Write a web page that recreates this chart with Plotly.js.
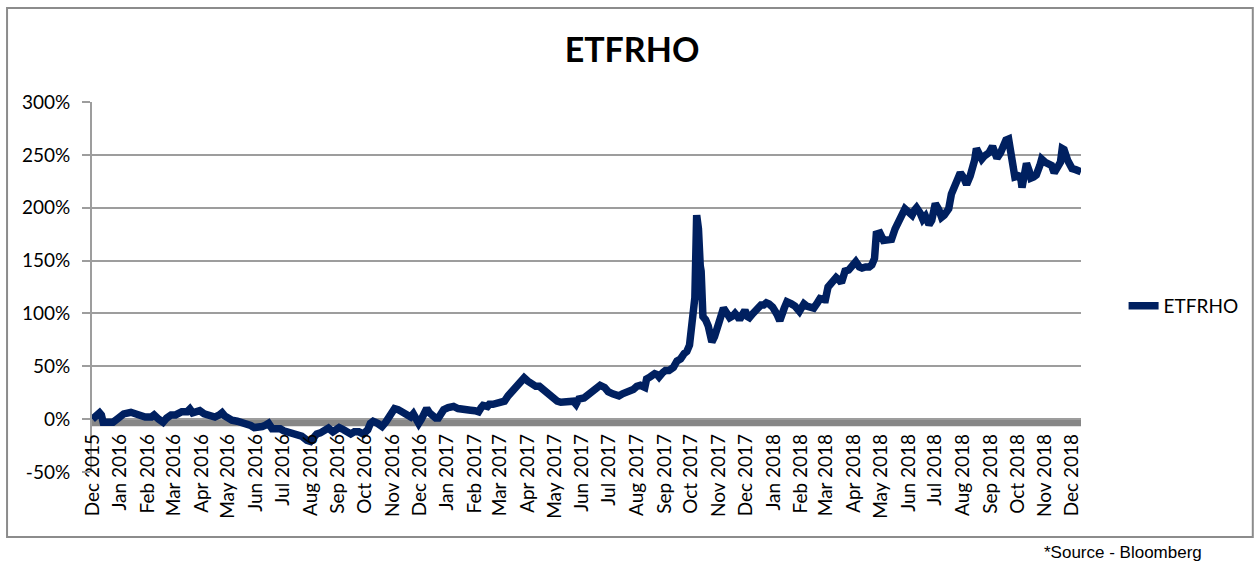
<!DOCTYPE html>
<html><head><meta charset="utf-8">
<script src="https://cdn.plot.ly/plotly-3.0.1.min.js"></script>
<style>html,body{margin:0;padding:0;background:#fff;}#chart{width:1255px;height:564px;}</style>
</head><body><div id="chart"></div>
<script>
const seriesName = "ETFRHO";
const chartTitle = "ETFRHO";
const sourceNote = "*Source - Bloomberg";

const dates = [
"2015-12-01","2015-12-05","2015-12-09","2015-12-11","2015-12-13","2015-12-19","2015-12-24","2015-12-30",
"2016-01-05","2016-01-13","2016-01-18","2016-01-24","2016-01-29",
"2016-02-05","2016-02-08","2016-02-13","2016-02-18","2016-02-22","2016-02-27",
"2016-03-03","2016-03-10","2016-03-16","2016-03-19","2016-03-22","2016-03-27","2016-03-30",
"2016-04-04","2016-04-09","2016-04-13","2016-04-16","2016-04-21","2016-04-24","2016-04-27","2016-04-30",
"2016-05-05","2016-05-11","2016-05-16","2016-05-22","2016-05-26","2016-05-30",
"2016-06-05","2016-06-08","2016-06-11","2016-06-15","2016-06-19","2016-06-24","2016-06-28",
"2016-07-02","2016-07-06","2016-07-11","2016-07-17","2016-07-22","2016-07-28",
"2016-08-01","2016-08-04","2016-08-08","2016-08-12","2016-08-16","2016-08-21","2016-08-26",
"2016-09-02","2016-09-07","2016-09-12","2016-09-15","2016-09-19","2016-09-24","2016-09-29",
"2016-10-04","2016-10-07","2016-10-10","2016-10-15","2016-10-20","2016-10-24","2016-10-27","2016-10-30",
"2016-11-03","2016-11-07","2016-11-10","2016-11-13","2016-11-18","2016-11-21","2016-11-24","2016-11-28","2016-11-30",
"2016-12-03","2016-12-06","2016-12-09","2016-12-12","2016-12-15","2016-12-19","2016-12-22","2016-12-25","2016-12-28",
"2017-01-02","2017-01-05","2017-01-08","2017-01-13","2017-01-18","2017-01-23","2017-01-27",
"2017-02-01","2017-02-05","2017-02-08","2017-02-10","2017-02-15","2017-02-17","2017-02-21","2017-02-27",
"2017-03-01","2017-03-06","2017-03-10","2017-03-13","2017-03-18","2017-03-22","2017-03-26","2017-03-28",
"2017-04-01","2017-04-05","2017-04-10","2017-04-14","2017-04-18","2017-04-22","2017-04-26","2017-04-30",
"2017-05-04","2017-05-08","2017-05-13","2017-05-17","2017-05-22","2017-05-25","2017-05-28",
"2017-06-03","2017-06-07","2017-06-11","2017-06-15","2017-06-18","2017-06-21","2017-06-26","2017-06-30",
"2017-07-05","2017-07-09","2017-07-12","2017-07-16","2017-07-20","2017-07-24","2017-07-28",
"2017-08-01","2017-08-05","2017-08-10","2017-08-12","2017-08-16","2017-08-21","2017-08-24","2017-08-26","2017-08-30",
"2017-09-02","2017-09-06","2017-09-11","2017-09-15","2017-09-19","2017-09-23","2017-09-26","2017-09-29",
"2017-10-03","2017-10-05","2017-10-07","2017-10-09","2017-10-11","2017-10-12","2017-10-14","2017-10-17","2017-10-20","2017-10-24","2017-10-27","2017-10-29",
"2017-11-02","2017-11-06","2017-11-10","2017-11-13","2017-11-17","2017-11-19","2017-11-22","2017-11-24","2017-11-28","2017-11-30",
"2017-12-03","2017-12-05","2017-12-09","2017-12-13","2017-12-18","2017-12-21","2017-12-24","2017-12-27","2017-12-31",
"2018-01-05","2018-01-08","2018-01-13","2018-01-16","2018-01-21","2018-01-25","2018-01-30",
"2018-02-04","2018-02-07","2018-02-11","2018-02-15","2018-02-19","2018-02-22","2018-02-27","2018-02-28",
"2018-03-03","2018-03-07","2018-03-09","2018-03-12","2018-03-16","2018-03-18","2018-03-22","2018-03-26","2018-03-30",
"2018-04-03","2018-04-07","2018-04-10","2018-04-14","2018-04-18","2018-04-21","2018-04-24","2018-04-26","2018-04-30",
"2018-05-04","2018-05-08","2018-05-13","2018-05-17","2018-05-21","2018-05-24","2018-05-28",
"2018-06-01","2018-06-05","2018-06-08","2018-06-10","2018-06-14","2018-06-17","2018-06-20","2018-06-24","2018-06-27",
"2018-07-01","2018-07-05","2018-07-08","2018-07-11","2018-07-16","2018-07-19","2018-07-22","2018-07-26","2018-07-29",
"2018-08-02","2018-08-05","2018-08-09","2018-08-11","2018-08-14","2018-08-16","2018-08-19","2018-08-22","2018-08-25","2018-08-30",
"2018-09-03","2018-09-06","2018-09-08","2018-09-12","2018-09-15","2018-09-18","2018-09-21","2018-09-23","2018-09-25","2018-09-28",
"2018-10-02","2018-10-04","2018-10-06","2018-10-09","2018-10-11","2018-10-14","2018-10-16","2018-10-19","2018-10-22","2018-10-26","2018-10-28",
"2018-11-01","2018-11-05","2018-11-08","2018-11-11","2018-11-15","2018-11-18","2018-11-20","2018-11-22","2018-11-26","2018-11-28",
"2018-12-01","2018-12-05","2018-12-11"
];

const etfrho = [
0,2,6,4,-3,-3,-3,1,
5,6.5,5,3,2,
2,4,0,-3,1,4,
4,7,7,9.5,6,8,8,
5,4,2,2,4,6,3,1,
-1,-2,-3,-4,-6,-8,
-8,-7,-6,-4,-9,-8,-9,
-11,-12,-13,-13,-16,-20,
-21,-18,-14,-13,-11,-8.5,-12,
-8,-10,-13,-14,-12,-12,-14,
-10,-4,-2,-4,-7,-3,1,6,
10,9,7.5,6,2,2,5,0,-4,
0,6,10,6,3,1,1,5,9,
11,12,12,10,10,9,8.5,
8,7,11,13,12,14,14,15,
16,17,22,25,29,34,37,39,
36,33,31,31,28,25,22,20,
17,16,16,16,17,14,19,
20,23,25,28,32,32,30,26,
24,23,22,24,25,27,28,
31,32,30,38,40,43,42,40,44,
46,46,49,55,57,62,64,70,
106,115,193,180,145,140,97,94,88,73,78,84,
97,105,100,96,98,100,97,94,100,103,
97,96,100,104,108,108,110,109,106,
99,93,105,111,109,107,102,
109,107,106,105,110,114,113,113,
125,128,130,134,131,129,140,141,145,
149,144,143,144,144,146,152,175,176,
169,169,170,180,187,195,199,
196,193,198,200,195,189,192,184,188,
204,198,191,193,199,213,218,226,233,
228,222,230,235,245,256,252,246,249,252,
258,253,247,252,258,264,265,252,238,229,
230,232,219,238,242,235,228,229,231,240,246,
243,240,240,233,240,243,256,255,245,242,
237,236,234
];

const yTickVals = [-50, 0, 50, 100, 150, 200, 250, 300];
const yTickText = ["-50%", "0%", "50%", "100%", "150%", "200%", "250%", "300%"];
const xRange = ["2015-11-30 12:00", "2018-12-11"];
const yRange = [-50, 300];

const gridColor = "#9d9d9d";
const textFont = {family: "Lato, 'Open Sans', sans-serif", size: 19, color: "#000"};

const trace = {
  type: "scatter", mode: "lines", name: seriesName,
  x: dates, y: etfrho,
  line: {color: "#002060", width: 7.5}
};

const layout = {
  width: 1255, height: 564,
  margin: {l: 92, r: 173, t: 102, b: 92},
  paper_bgcolor: "#fff", plot_bgcolor: "#fff",
  title: {text: "<b>" + chartTitle + "</b>", font: {family: "Lato, sans-serif", size: 34, color: "#000"},
          xref: "container", x: 0.5036, yref: "container", y: 0.9113, xanchor: "center", yanchor: "middle"},
  showlegend: true,
  legend: {x: 1.042, y: 0.4486, xanchor: "left", yanchor: "middle", font: textFont, bgcolor: "rgba(0,0,0,0)"},
  xaxis: {
    type: "date", range: xRange, anchor: "free", position: (0 - yRange[0]) / (yRange[1] - yRange[0]),
    dtick: "M1", tick0: "2015-12-01", tickformat: "%b %Y", tickangle: -90,
    showgrid: false, showline: false, zeroline: false, ticks: "", ticklabelstandoff: 10,
    tickfont: textFont, fixedrange: true
  },
  yaxis: {
    range: yRange, tickvals: yTickVals, ticktext: yTickText,
    showgrid: true, gridcolor: gridColor, gridwidth: 2,
    showline: true, linecolor: gridColor, linewidth: 2,
    ticks: "outside", ticklen: 8, tickwidth: 2, tickcolor: gridColor, ticklabelstandoff: 8,
    zeroline: false, tickfont: textFont, fixedrange: true
  },
  shapes: [
    {type: "rect", layer: "below", xref: "paper", x0: 0, x1: 1, yref: "y", ysizemode: "pixel", yanchor: 0, y0: 0, y1: -7,
     fillcolor: "#878787", line: {width: 0}},
    {type: "rect", layer: "below", xref: "paper", yref: "paper", x0: -0.0859, x1: 1.1737, y0: -0.1757, y1: 1.2541,
     fillcolor: "rgba(0,0,0,0)", line: {color: "#8c8c8c", width: 2}}
  ],
  annotations: [
    {text: sourceNote, xref: "paper", yref: "paper", x: 1.0424, y: -0.2176, xanchor: "center", yanchor: "middle",
     showarrow: false, font: {family: "'Liberation Sans', Arial, sans-serif", size: 17, color: "#000"}}
  ]
};

Plotly.newPlot("chart", [trace], layout, {displayModeBar: false, staticPlot: true});
</script>
</body></html>
